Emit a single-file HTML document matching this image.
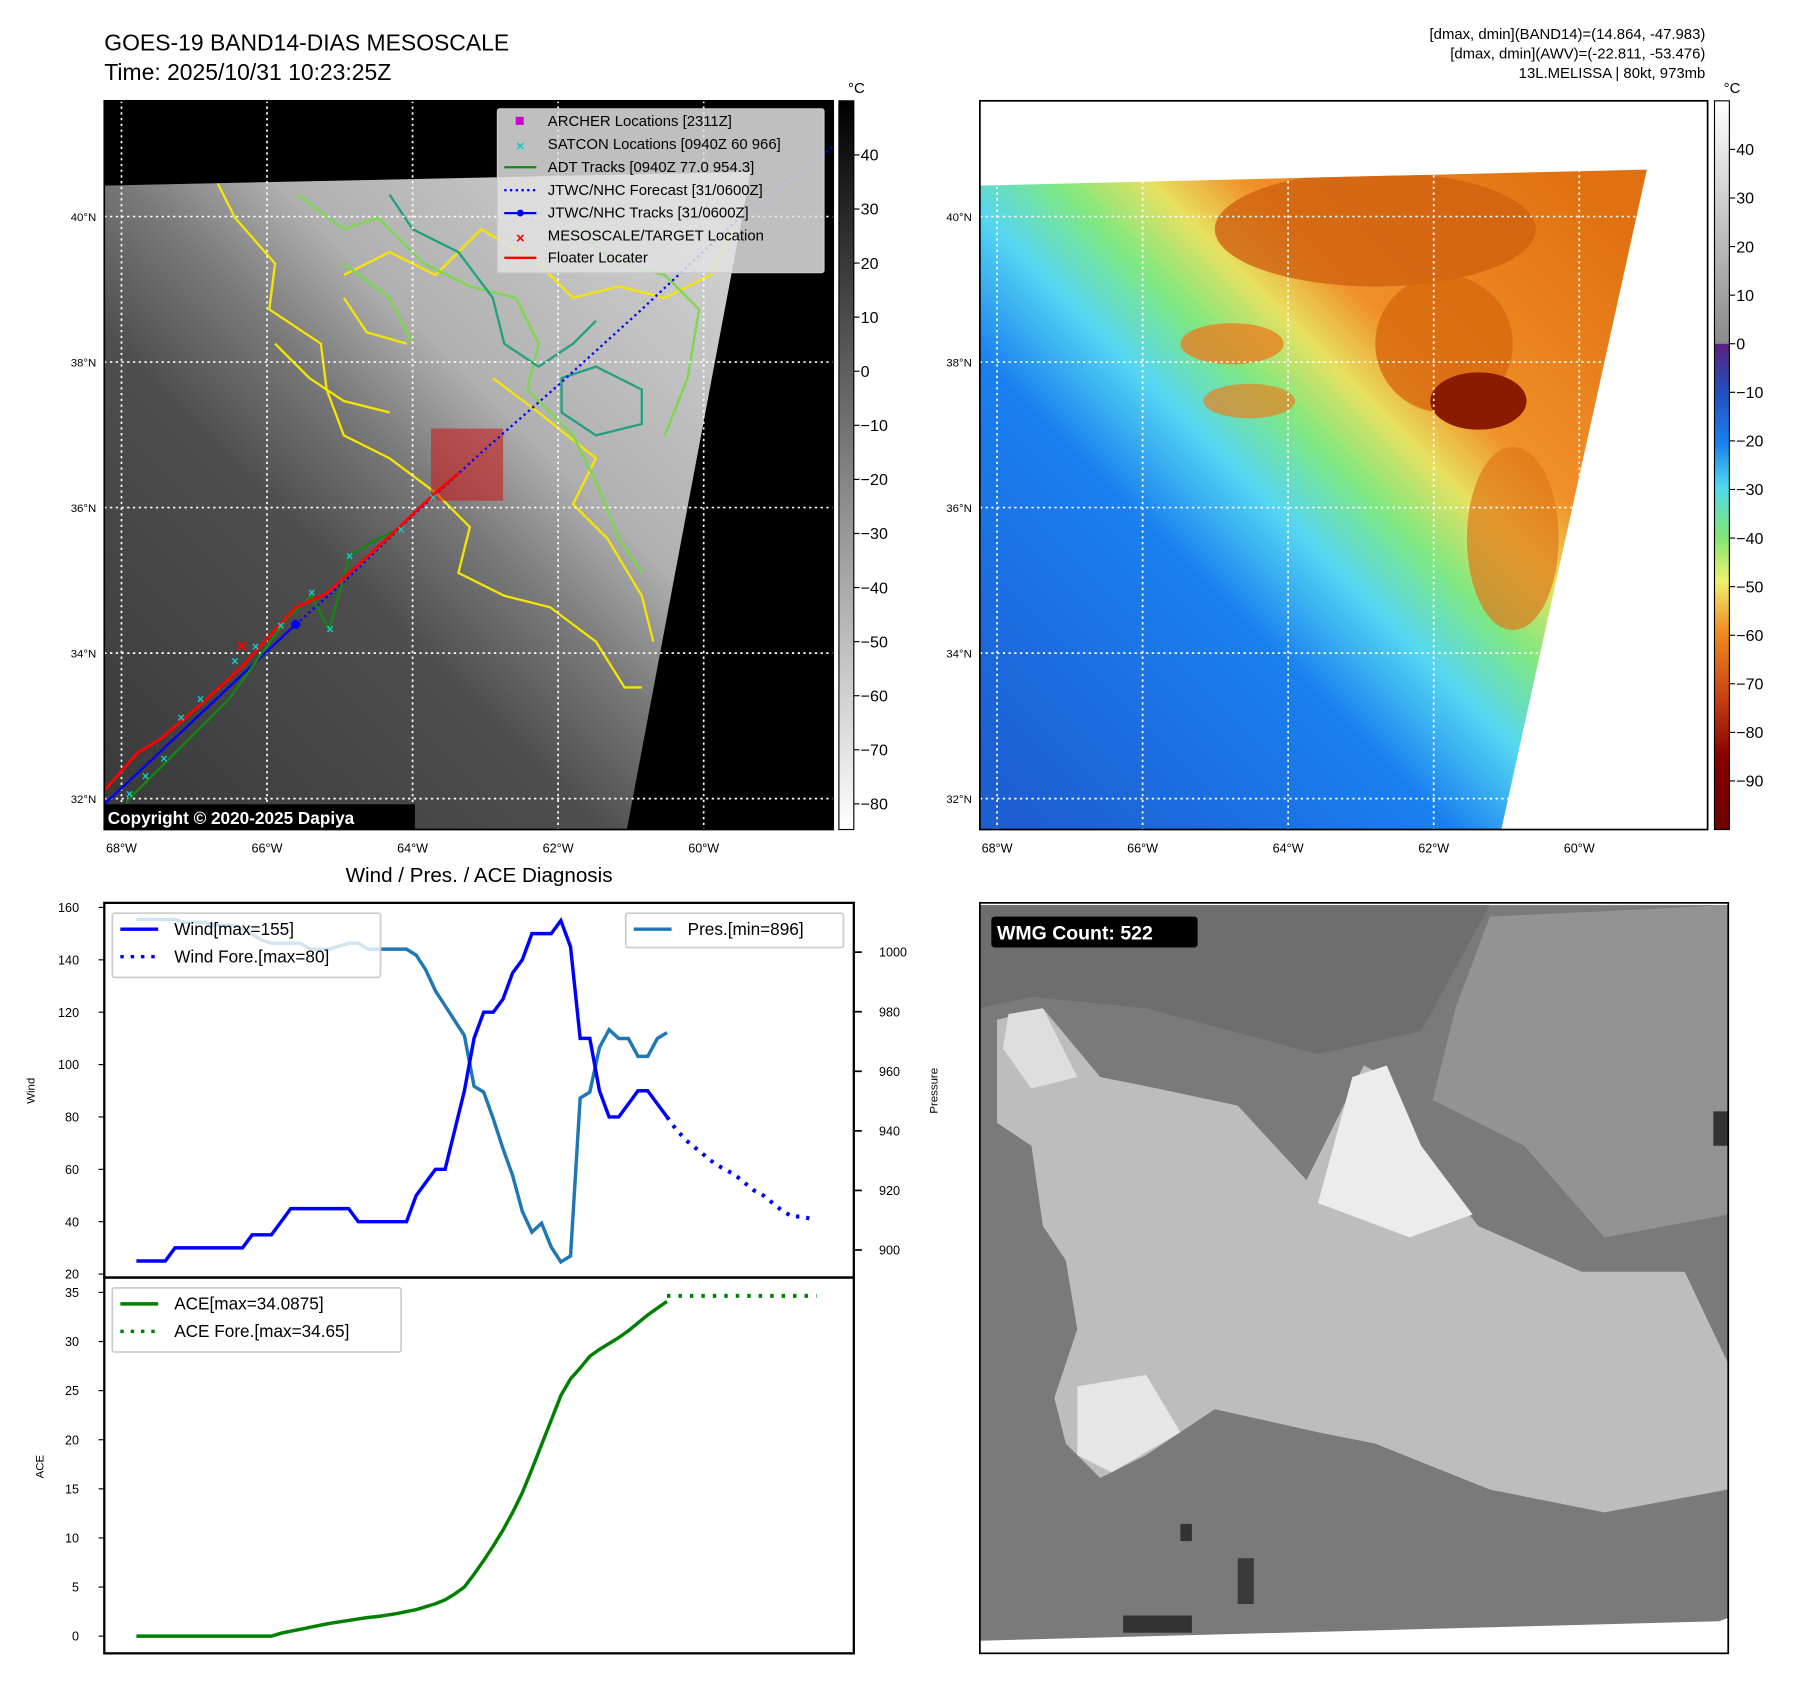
<!DOCTYPE html>
<html><head><meta charset="utf-8"><style>
html,body{margin:0;padding:0;background:#fff}
svg{display:block;font-family:"Liberation Sans",sans-serif}
</style></head><body>
<svg id="fig" width="1797" height="1690" viewBox="0 0 1568 1475" preserveAspectRatio="none" xmlns="http://www.w3.org/2000/svg">
<defs>
<linearGradient id="gGray" x1="91" y1="700" x2="600" y2="190" gradientUnits="userSpaceOnUse">
<stop offset="0" stop-color="#3a3a3a"/><stop offset="0.4" stop-color="#4e4e4e"/><stop offset="0.55" stop-color="#7a7a7a"/><stop offset="0.68" stop-color="#b0b0b0"/><stop offset="1" stop-color="#cfcfcf"/></linearGradient>
<linearGradient id="gCol" x1="880" y1="700" x2="1400" y2="180" gradientUnits="userSpaceOnUse">
<stop offset="0" stop-color="#1d5ed2"/><stop offset="0.35" stop-color="#1a80f0"/><stop offset="0.47" stop-color="#55d6f2"/><stop offset="0.56" stop-color="#80e880"/><stop offset="0.64" stop-color="#e8e060"/><stop offset="0.72" stop-color="#f09028"/><stop offset="1" stop-color="#e07010"/></linearGradient>
<linearGradient id="cb1" x1="0" y1="0" x2="0" y2="1"><stop offset="0" stop-color="#000"/><stop offset="1" stop-color="#fff"/></linearGradient>
<linearGradient id="cb2" x1="0" y1="0" x2="0" y2="1">
<stop offset="0" stop-color="#ffffff"/><stop offset="0.333" stop-color="#8a8a8a"/><stop offset="0.334" stop-color="#5a2080"/><stop offset="0.4" stop-color="#2050c0"/><stop offset="0.47" stop-color="#1a80f0"/><stop offset="0.53" stop-color="#50d8f0"/><stop offset="0.6" stop-color="#80e870"/><stop offset="0.66" stop-color="#f0f070"/><stop offset="0.73" stop-color="#f08a20"/><stop offset="0.82" stop-color="#c84010"/><stop offset="0.9" stop-color="#880000"/><stop offset="1" stop-color="#700000"/></linearGradient>
<clipPath id="clipTrap1"><polygon points="91,162 655,150 547,724 91,724"/></clipPath>
<clipPath id="clipTrap2"><polygon points="855,162 1437,148 1310,724 855,724"/></clipPath>
</defs>

<text x="91" y="44" font-size="20">GOES-19 BAND14-DIAS MESOSCALE</text>
<text x="91" y="70" font-size="20">Time: 2025/10/31 10:23:25Z</text>
<g font-size="13" text-anchor="end">
<text x="1488" y="34">[dmax, dmin](BAND14)=(14.864, -47.983)</text>
<text x="1488" y="51">[dmax, dmin](AWV)=(-22.811, -53.476)</text>
<text x="1488" y="68">13L.MELISSA | 80kt, 973mb</text>
</g>

<g>
<rect x="91" y="88" width="636" height="636" fill="#000"/>
<polygon points="91,162 655,150 547,724 91,724" fill="url(#gGray)"/>
<g clip-path="url(#clipTrap1)" fill="none" stroke-width="2">
<path stroke="#f5e600" d="M190,160 L205,190 L240,230 L235,270 L280,300 L285,340 L300,380 L340,400 L380,430 L410,460 L400,500 L440,520 L480,530 L520,560 L545,600 L560,600 M300,240 L340,220 L380,240 L420,200 L470,230 L500,260 L540,250 L580,260 L620,240 L640,200 M430,330 L470,360 L520,400 L500,440 L530,470 L560,520 L570,560 M240,300 L270,330 L300,350 L340,360 M300,260 L320,290 L355,300"/>
<path stroke="#7ad94a" d="M260,170 L300,200 L330,190 L370,230 L410,250 L450,260 L470,300 L460,340 L500,380 L520,420 L540,470 L560,500 M500,200 L540,230 L580,240 L610,270 L600,330 L580,380 M300,230 L340,260 L360,300"/>
<path stroke="#20a080" d="M340,170 L360,200 L400,220 L430,260 L440,300 L470,320 L500,300 L520,280 M490,330 L520,320 L560,340 L560,370 L520,380 L490,360 Z"/>
</g>
<g stroke="#fff" stroke-width="1.5" stroke-dasharray="2,3">
<line x1="106" y1="88" x2="106" y2="724"/><line x1="233" y1="88" x2="233" y2="724"/><line x1="360" y1="88" x2="360" y2="724"/><line x1="487" y1="88" x2="487" y2="724"/><line x1="614" y1="88" x2="614" y2="724"/>
<line x1="91" y1="189" x2="727" y2="189"/><line x1="91" y1="316" x2="727" y2="316"/><line x1="91" y1="443" x2="727" y2="443"/><line x1="91" y1="570" x2="727" y2="570"/><line x1="91" y1="697" x2="727" y2="697"/>
</g>
<rect x="376" y="374" width="63" height="63" fill="rgba(200,30,30,0.6)"/>
<polyline points="258,545 300,508 360,450 420,395 485,338 560,270 640,195 727,128" fill="none" stroke="#00f" stroke-width="2" stroke-dasharray="2,3"/>
<polyline points="91,702 258,545" fill="none" stroke="#00f" stroke-width="2"/>
<circle cx="258" cy="545" r="4" fill="#00f"/>
<polyline points="110,700 150,660 200,610 250,540 272,520 287,550 305,485 330,470 352,460" fill="none" stroke="#118811" stroke-width="2"/>
<polyline points="91,690 120,657 140,645 175,615 210,583 258,530 285,518 340,468 378,432 400,413" fill="none" stroke="#f00" stroke-width="2.5"/>
<g fill="#1cc" font-size="11" font-weight="bold" text-anchor="middle">
<text x="113" y="697">×</text><text x="127" y="681">×</text><text x="143" y="666">×</text><text x="158" y="630">×</text><text x="175" y="614">×</text><text x="205" y="581">×</text><text x="223" y="568">×</text><text x="245" y="550">×</text><text x="272" y="521">×</text><text x="288" y="553">×</text><text x="305" y="489">×</text><text x="350" y="466">×</text><text x="378" y="438">×</text>
</g>
<text x="211" y="569" fill="#f00" font-size="16" font-weight="bold" text-anchor="middle">×</text>
<rect x="91" y="88" width="636" height="636" fill="none" stroke="#000" stroke-width="1.5"/>
<g font-size="13">
<rect x="434" y="95" width="285" height="143" fill="rgba(225,225,225,0.85)" stroke="#ccc" rx="2"/>
<rect x="450" y="102" width="7" height="7" fill="#c0c"/><text x="478" y="110">ARCHER Locations [2311Z]</text>
<text x="454" y="132" fill="#1cc" font-weight="bold" text-anchor="middle">×</text><text x="478" y="130">SATCON Locations [0940Z 60 966]</text>
<line x1="440" y1="146" x2="468" y2="146" stroke="#118811" stroke-width="2"/><text x="478" y="150">ADT Tracks [0940Z 77.0 954.3]</text>
<line x1="440" y1="166" x2="468" y2="166" stroke="#00f" stroke-width="2" stroke-dasharray="2,3"/><text x="478" y="170">JTWC/NHC Forecast [31/0600Z]</text>
<line x1="440" y1="186" x2="468" y2="186" stroke="#00f" stroke-width="2"/><circle cx="454" cy="186" r="3" fill="#00f"/><text x="478" y="190">JTWC/NHC Tracks [31/0600Z]</text>
<text x="454" y="212" fill="#f00" font-weight="bold" text-anchor="middle">×</text><text x="478" y="210">MESOSCALE/TARGET Location</text>
<line x1="440" y1="225" x2="468" y2="225" stroke="#f00" stroke-width="2"/><text x="478" y="229">Floater Locater</text>
</g>
<rect x="91" y="702" width="271" height="22" fill="#000"/>
<text x="94" y="719" fill="#fff" font-size="15" font-weight="bold">Copyright © 2020-2025 Dapiya</text>
</g>
<g font-size="11" text-anchor="middle">
<text x="106" y="744">68°W</text><text x="233" y="744">66°W</text><text x="360" y="744">64°W</text><text x="487" y="744">62°W</text><text x="614" y="744">60°W</text>
<g text-anchor="end" font-size="10"><text x="84" y="193">40°N</text><text x="84" y="320">38°N</text><text x="84" y="447">36°N</text><text x="84" y="574">34°N</text><text x="84" y="701">32°N</text></g>
</g>
<g>
<rect x="732" y="88" width="13" height="636" fill="url(#cb1)" stroke="#000" stroke-width="1"/>
<text x="740" y="81" font-size="13">°C</text>
<g id="cb1ticks" font-size="14"></g>
</g>

<g>
<rect x="855" y="88" width="635" height="636" fill="#fff"/>
<polygon points="855,162 1437,148 1310,724 855,724" fill="url(#gCol)"/>
<g clip-path="url(#clipTrap2)">
<ellipse cx="1200" cy="200" rx="140" ry="50" fill="#d06010" opacity="0.8"/>
<ellipse cx="1260" cy="300" rx="60" ry="60" fill="#d8680f" opacity="0.8"/>
<ellipse cx="1290" cy="350" rx="42" ry="25" fill="#8a1a00"/>
<ellipse cx="1075" cy="300" rx="45" ry="18" fill="#e88020" opacity="0.8"/>
<ellipse cx="1090" cy="350" rx="40" ry="15" fill="#e88020" opacity="0.7"/>
<ellipse cx="1320" cy="470" rx="40" ry="80" fill="#e07818" opacity="0.7"/>
</g>
<g stroke="#fff" stroke-width="1.5" stroke-dasharray="2,3">
<line x1="870" y1="88" x2="870" y2="724"/><line x1="997" y1="88" x2="997" y2="724"/><line x1="1124" y1="88" x2="1124" y2="724"/><line x1="1251" y1="88" x2="1251" y2="724"/><line x1="1378" y1="88" x2="1378" y2="724"/>
<line x1="855" y1="189" x2="1490" y2="189"/><line x1="855" y1="316" x2="1490" y2="316"/><line x1="855" y1="443" x2="1490" y2="443"/><line x1="855" y1="570" x2="1490" y2="570"/><line x1="855" y1="697" x2="1490" y2="697"/>
</g>
<rect x="855" y="88" width="635" height="636" fill="none" stroke="#000" stroke-width="1.5"/>
</g>
<g font-size="11" text-anchor="middle">
<text x="870" y="744">68°W</text><text x="997" y="744">66°W</text><text x="1124" y="744">64°W</text><text x="1251" y="744">62°W</text><text x="1378" y="744">60°W</text>
<g text-anchor="end" font-size="10"><text x="848" y="193">40°N</text><text x="848" y="320">38°N</text><text x="848" y="447">36°N</text><text x="848" y="574">34°N</text><text x="848" y="701">32°N</text></g>
</g>
<g>
<rect x="1496" y="88" width="13" height="636" fill="url(#cb2)" stroke="#000" stroke-width="1"/>
<text x="1504" y="81" font-size="13">°C</text>
<g id="cb2ticks" font-size="14"></g>
</g>

<text x="418" y="770" font-size="18" text-anchor="middle">Wind / Pres. / ACE Diagnosis</text>
<g id="chart"></g>

<g>
<rect x="855" y="788" width="653" height="655" fill="#fff"/>
<polygon points="855,790 1508,790 1508,1412 1500,1415 855,1432" fill="#7a7a7a"/>
<polygon points="855,790 1300,790 1240,900 1150,920 1000,880 900,870 855,880" fill="#6e6e6e"/>
<polygon points="1300,800 1508,790 1508,1060 1400,1080 1330,1000 1250,960 1270,880" fill="#939393"/>
<polygon points="870,890 910,880 960,940 1010,950 1080,965 1140,1030 1190,930 1210,940 1250,1020 1290,1070 1380,1110 1470,1110 1508,1190 1508,1300 1400,1320 1300,1300 1200,1260 1150,1250 1060,1230 1000,1270 960,1290 930,1260 920,1220 940,1160 930,1100 910,1070 900,1000 870,980" fill="#bdbdbd"/>
<polygon points="1180,940 1210,930 1240,1000 1285,1060 1230,1080 1150,1050" fill="#ececec"/>
<polygon points="880,885 910,880 940,940 900,950 875,915" fill="#dedede"/>
<polygon points="940,1210 1000,1200 1030,1250 970,1285 940,1270" fill="#e6e6e6"/>
<rect x="1030" y="1330" width="10" height="15" fill="#333"/>
<rect x="1080" y="1360" width="14" height="40" fill="#3a3a3a"/>
<rect x="980" y="1410" width="60" height="15" fill="#333"/>
<rect x="1495" y="970" width="13" height="30" fill="#333"/>
<rect x="855" y="788" width="653" height="655" fill="none" stroke="#000" stroke-width="1.5"/>
<rect x="865" y="800" width="180" height="27" rx="3" fill="#000"/>
<text x="870" y="820" fill="#fff" font-size="17" font-weight="bold">WMG Count: 522</text>
</g>

<script>
const windObs = [25,25,25,25,30,30,30,30,30,30,30,30,35,35,35,40,45,45,45,45,45,45,45,40,40,40,40,40,40,50,55,60,60,75,90,110,120,120,125,135,140,150,150,150,155,145,110,110,90,80,80,85,90,90,85,80];
const windFc = [80,75,71,68,65,62,60,58,55,52,50,47,44,42,42,41];
const presObs = [1011,1011,1011,1011,1011,1010,1010,1010,1009,1009,1009,1008,1006,1004,1003,1003,1003,1003,1001,1001,1001,1002,1003,1003,1001,1001,1001,1001,1001,999,994,987,982,977,972,955,953,944,934,925,913,906,909,901,896,898,951,953,968,974,971,971,965,965,971,973];
const aceObs = [0,0,0,0,0,0,0,0,0,0,0,0,0,0,0,0.3,0.5,0.7,0.9,1.1,1.3,1.45,1.6,1.75,1.9,2.0,2.15,2.3,2.5,2.7,3.0,3.3,3.7,4.3,5.0,6.3,7.7,9.2,10.8,12.6,14.6,17.0,19.5,22.0,24.5,26.2,27.3,28.5,29.2,29.8,30.4,31.1,31.9,32.7,33.4,34.09];
const aceFc = [34.65,34.65];
const aceFcIdx = [55,70.5];
const windTicks = [20,40,60,80,100,120,140,160];
const presTicks = [900,920,940,960,980,1000];
const aceTicks = [0,5,10,15,20,25,30,35];
const cb1Ticks = [40,30,20,10,0,-10,-20,-30,-40,-50,-60,-70,-80];
const cb2Ticks = [40,30,20,10,0,-10,-20,-30,-40,-50,-60,-70,-80,-90];

const NS='http://www.w3.org/2000/svg';
const xS = i => 119 + i*(582-119)/55;
const yW = v => 1112 - (v-20)*(1112-792)/140;
const yP = v => 1091 - (v-900)*(1091-831)/100;
const yA = v => 1428 - v*(1428-1128)/35;
const cb1Y = v => 324 - v*4.72;
const cb2Y = v => 300 - v*4.24;
function mk(tag, attrs, parent){const e=document.createElementNS(NS,tag);for(const k in attrs)e.setAttribute(k,attrs[k]);parent.appendChild(e);return e;}
const chart=document.getElementById('chart');

const f1=mk('rect',{x:91,y:788,width:654,height:327,fill:'none',stroke:'#000','stroke-width':2},chart);


const f2=mk('rect',{x:91,y:1115,width:654,height:328,fill:'none',stroke:'#000','stroke-width':2},chart);



windTicks.forEach(v=>{
  mk('line',{x1:86,x2:91,y1:yW(v),y2:yW(v),stroke:'#000'},chart);
  const t=mk('text',{x:69,y:yW(v)+4,'font-size':11,'text-anchor':'end'},chart);t.textContent=v;
  
  
});
presTicks.forEach(v=>{
  mk('line',{x1:745,x2:752,y1:yP(v),y2:yP(v),stroke:'#000','stroke-width':1.5},chart);
  const t=mk('text',{x:767,y:yP(v)+4,'font-size':11},chart);t.textContent=v;
  
  
});
aceTicks.forEach(v=>{
  mk('line',{x1:86,x2:91,y1:yA(v),y2:yA(v),stroke:'#000'},chart);
  const t=mk('text',{x:69,y:yA(v)+4,'font-size':11,'text-anchor':'end'},chart);t.textContent=v;
  
  
});
function lbl(txt,x,y,name){const t=mk('text',{x:x,y:y,'font-size':10,'text-anchor':'middle',transform:`rotate(-90 ${x} ${y})`},chart);t.textContent=txt;
  
  }
lbl('Wind',30,952,'wind-axis-title');lbl('Pressure',818,952,'pressure-axis-title');lbl('ACE',38,1280,'ace-axis-title');

function line(vals, offs, yf, attrs, name, idxs){
  const pts=vals.map((v,k)=>`${xS(idxs?idxs[k]:k+offs)},${yf(v)}`).join(' ');
  const p=mk('polyline',Object.assign({points:pts,fill:'none'},attrs),chart);
  
  
}
line(presObs,0,yP,{stroke:'#1f77b4','stroke-width':3},'pressure-line');
line(windObs,0,yW,{stroke:'#0000ff','stroke-width':3},'wind-line');
line(windFc,55,yW,{stroke:'#0000ff','stroke-width':3.5,'stroke-dasharray':'3,6'},'wind-forecast-line');
line(aceObs,0,yA,{stroke:'#008000','stroke-width':3},'ace-line');
line(aceFc,0,yA,{stroke:'#008000','stroke-width':3.5,'stroke-dasharray':'3,7'},'ace-forecast-line',aceFcIdx);

function legend(x,y,w,h,items,name){
  const g=mk('g',{},chart);
  
  
  mk('rect',{x:x,y:y,width:w,height:h,fill:'rgba(255,255,255,0.8)',stroke:'#ccc','stroke-width':1.5,rx:2},g);
  items.forEach((it,k)=>{const yy=y+14+k*24;
    mk('line',Object.assign({x1:x+7,x2:x+40,y1:yy,y2:yy,stroke:it.c,'stroke-width':3},it.d?{'stroke-dasharray':'3,6'}:{}),g);
    const t=mk('text',{x:x+54,y:yy+5,'font-size':15},g);t.textContent=it.t;});
}
legend(98,797,234,56,[{c:'#00f',t:'Wind[max=155]'},{c:'#00f',t:'Wind Fore.[max=80]',d:1}],'wind-legend');
legend(546,797,190,30,[{c:'#1f77b4',t:'Pres.[min=896]'}],'pressure-legend');
legend(98,1124,252,56,[{c:'#008000',t:'ACE[max=34.0875]'},{c:'#008000',t:'ACE Fore.[max=34.65]',d:1}],'ace-legend');

const g1=document.getElementById('cb1ticks');
cb1Ticks.forEach(v=>{mk('line',{x1:745,x2:750,y1:cb1Y(v),y2:cb1Y(v),stroke:'#000'},g1);
  const t=mk('text',{x:751,y:cb1Y(v)+5,'font-size':14},g1);t.textContent=(v<0?'\u2212'+(-v):v);
  
  });
const g2=document.getElementById('cb2ticks');
cb2Ticks.forEach(v=>{mk('line',{x1:1509,x2:1514,y1:cb2Y(v),y2:cb2Y(v),stroke:'#000'},g2);
  const t=mk('text',{x:1515,y:cb2Y(v)+5,'font-size':14},g2);t.textContent=(v<0?'\u2212'+(-v):v);
  
  });
</script>
</svg>
</body></html>
